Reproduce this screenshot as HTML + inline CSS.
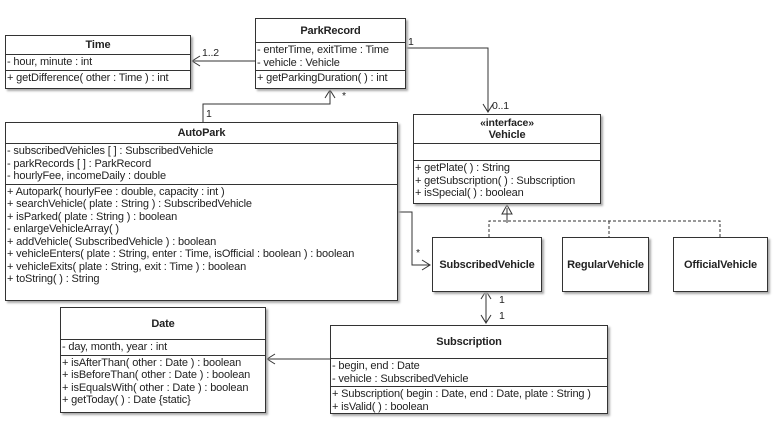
<!DOCTYPE html>
<html><head><style>
body{margin:0;width:781px;height:422px;background:#fff;position:relative;overflow:hidden;font-family:"Liberation Sans",sans-serif;font-size:11px;letter-spacing:-0.15px;color:#222}
.b{position:absolute;border:1px solid #333;background:#fff;box-shadow:2px 2px 2px #aaa;box-sizing:border-box}
.h{font-weight:bold;text-align:center;border-bottom:1px solid #333;box-sizing:border-box;display:flex;flex-direction:column;justify-content:center}
.s{border-bottom:1px solid #333;padding:1px 1px}
.s div{line-height:12.5px;white-space:nowrap}
.m{padding:1px 1px}
.m div{line-height:12.5px;white-space:nowrap}
.c{display:flex;align-items:center;justify-content:center;font-weight:bold;height:100%}
.t{position:absolute;font-size:10.5px}
svg{position:absolute;left:0;top:0}
</style></head><body>
<svg width="781" height="422" fill="none" stroke="#333" stroke-width="1">
<path d="M255 61H192M200 56L192 61L200 66"/>
<path d="M405 48H488V112M483 104L488 112L493 104"/>
<path d="M203 122V104H330V90M325 98L330 90L335 98"/>
<path d="M397 212H412V265H430M422 260L430 265L422 270"/>
<path d="M486 291V323M481 299L486 291L491 299M481 315L486 323L491 315"/>
<path d="M330 359H267M275 354L267 359L275 364"/>
<path d="M507 223V208M502 214L507 205L512 214Z" fill="#fff"/>
<path d="M489 237V221H720V237M609 221V237" stroke-dasharray="3,2"/>
</svg>
<div class="t" style="left:202px;top:47px">1..2</div>
<div class="t" style="left:408px;top:36px">1</div>
<div class="t" style="left:492px;top:100px">0..1</div>
<div class="t" style="left:206px;top:108px">1</div>
<div class="t" style="left:342px;top:90px">*</div>
<div class="t" style="left:416px;top:247px">*</div>
<div class="t" style="left:499px;top:294px">1</div>
<div class="t" style="left:499px;top:310px">1</div>

<div class="b" style="left:5px;top:35px;width:186px;height:54px">
<div class="h" style="height:19px">Time</div>
<div class="s"><div>- hour, minute : int</div></div>
<div class="m"><div>+ getDifference( other : Time ) : int</div></div></div>

<div class="b" style="left:255px;top:18px;width:151px;height:71px">
<div class="h" style="height:24px">ParkRecord</div>
<div class="s"><div>- enterTime, exitTime : Time</div><div>- vehicle : Vehicle</div></div>
<div class="m"><div>+ getParkingDuration( ) : int</div></div></div>

<div class="b" style="left:5px;top:122px;width:393px;height:179px">
<div class="h" style="height:21px">AutoPark</div>
<div class="s"><div>- subscribedVehicles [ ] : SubscribedVehicle</div><div>- parkRecords [ ] : ParkRecord</div><div>- hourlyFee, incomeDaily : double</div></div>
<div class="m"><div>+ Autopark( hourlyFee : double, capacity : int )</div><div>+ searchVehicle( plate : String ) : SubscribedVehicle</div><div>+ isParked( plate : String ) : boolean</div><div>- enlargeVehicleArray( )</div><div>+ addVehicle( SubscribedVehicle ) : boolean</div><div>+ vehicleEnters( plate : String, enter : Time, isOfficial : boolean ) : boolean</div><div>+ vehicleExits( plate : String, exit : Time ) : boolean</div><div>+ toString( ) : String</div></div></div>

<div class="b" style="left:413px;top:114px;width:188px;height:90px">
<div class="h" style="height:29px;font-size:10.5px;line-height:12px"><span>«interface»</span><span style="font-size:11px">Vehicle</span></div>
<div class="s" style="height:17px;box-sizing:border-box"></div>
<div class="m"><div>+ getPlate( ) : String</div><div>+ getSubscription( ) : Subscription</div><div>+ isSpecial( ) : boolean</div></div></div>

<div class="b" style="left:432px;top:237px;width:110px;height:55px"><div class="c">SubscribedVehicle</div></div>
<div class="b" style="left:562px;top:237px;width:87px;height:55px"><div class="c">RegularVehicle</div></div>
<div class="b" style="left:673px;top:237px;width:95px;height:55px"><div class="c">OfficialVehicle</div></div>

<div class="b" style="left:60px;top:307px;width:206px;height:106px">
<div class="h" style="height:32px">Date</div>
<div class="s"><div>- day, month, year : int</div></div>
<div class="m"><div>+ isAfterThan( other : Date ) : boolean</div><div>+ isBeforeThan( other : Date ) : boolean</div><div>+ isEqualsWith( other : Date ) : boolean</div><div>+ getToday( ) : Date {static}</div></div></div>

<div class="b" style="left:330px;top:325px;width:278px;height:89px">
<div class="h" style="height:33px">Subscription</div>
<div class="s"><div>- begin, end : Date</div><div>- vehicle : SubscribedVehicle</div></div>
<div class="m"><div>+ Subscription( begin : Date, end : Date, plate : String )</div><div>+ isValid( ) : boolean</div></div></div>
</body></html>
